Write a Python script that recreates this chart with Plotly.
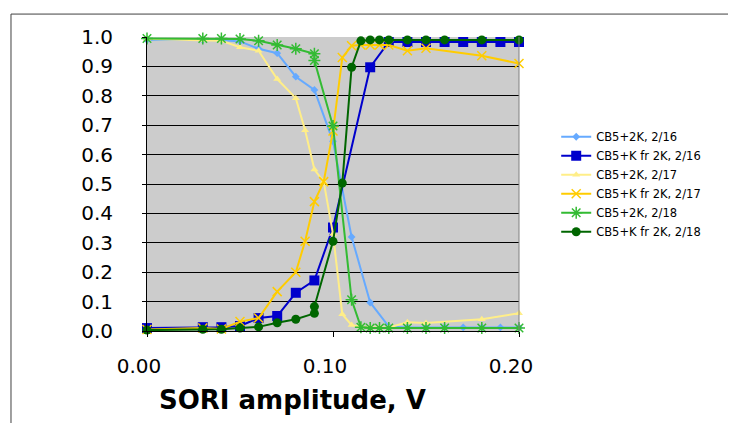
import plotly.graph_objects as go

# ---- data ----
x_216a = [0, 0.03, 0.04, 0.05, 0.06, 0.07, 0.08, 0.09, 0.10, 0.11, 0.12, 0.13,
          0.14, 0.15, 0.16, 0.17, 0.18, 0.19, 0.20]
y_216a = [0.99, 0.99, 0.99, 0.985, 0.96, 0.945, 0.865, 0.82, 0.645, 0.32, 0.097, 0.015,
          0.012, 0.012, 0.012, 0.012, 0.012, 0.012, 0.012]

x_216b = [0, 0.03, 0.04, 0.05, 0.06, 0.07, 0.08, 0.09, 0.10, 0.12, 0.13,
          0.14, 0.15, 0.16, 0.17, 0.18, 0.19, 0.20]
y_216b = [0.01, 0.013, 0.013, 0.017, 0.044, 0.051, 0.13, 0.172, 0.352, 0.897, 0.983,
          0.983, 0.983, 0.983, 0.983, 0.983, 0.983, 0.983]

x_217 = [0, 0.03, 0.04, 0.05, 0.06, 0.07, 0.08, 0.085, 0.09, 0.095, 0.10, 0.105,
         0.11, 0.115, 0.12, 0.125, 0.13, 0.14, 0.15, 0.18, 0.20]
y_217a = [0.993, 0.99, 0.987, 0.965, 0.953, 0.857, 0.792, 0.683, 0.549, 0.508, 0.33, 0.057,
          0.02, 0.015, 0.012, 0.012, 0.012, 0.03, 0.027, 0.04, 0.06]
y_217b = [0.005, 0.01, 0.007, 0.032, 0.044, 0.134, 0.2, 0.305, 0.44, 0.508, 0.68, 0.93,
          0.97, 0.973, 0.973, 0.973, 0.973, 0.953, 0.962, 0.936, 0.91]

x_218a = [0, 0.03, 0.04, 0.05, 0.06, 0.07, 0.08, 0.09, 0.09, 0.10, 0.11, 0.115,
          0.12, 0.125, 0.13, 0.14, 0.15, 0.16, 0.18, 0.20]
y_218a = [0.995, 0.995, 0.995, 0.993, 0.987, 0.973, 0.96, 0.943, 0.92, 0.697, 0.106, 0.013,
          0.01, 0.01, 0.01, 0.01, 0.01, 0.01, 0.01, 0.01]

x_218b = [0, 0.03, 0.04, 0.05, 0.06, 0.07, 0.08, 0.09, 0.09, 0.10, 0.105, 0.11, 0.115,
          0.12, 0.125, 0.13, 0.14, 0.15, 0.16, 0.18, 0.20]
y_218b = [0.003, 0.006, 0.006, 0.01, 0.014, 0.028, 0.04, 0.06, 0.083, 0.305, 0.503, 0.897, 0.987,
          0.99, 0.99, 0.99, 0.99, 0.99, 0.99, 0.99, 0.99]

names = ["CB5+2K, 2/16", "CB5+K fr 2K, 2/16", "CB5+2K, 2/17",
         "CB5+K fr 2K, 2/17", "CB5+2K, 2/18", "CB5+K fr 2K, 2/18"]
y_ticks = [0.0, 0.1, 0.2, 0.3, 0.4, 0.5, 0.6, 0.7, 0.8, 0.9, 1.0]
x_ticks = [0.0, 0.1, 0.2]

series = [
    (x_216a, y_216a, "#66AAFF", "diamond", 6),
    (x_216b, y_216b, "#0000CC", "square", 10),
    (x_217, y_217a, "#FFEE88", "triangle-up", 7),
    (x_217, y_217b, "#FFCC00", "x-thin", 9),
    (x_218a, y_218a, "#33BB33", "asterisk", 10),
    (x_218b, y_218b, "#006600", "circle", 9),
]

fig = go.Figure()
for (xs, ys, col, sym, sz), nm in zip(series, names):
    mk = dict(symbol=sym, size=sz, color=col)
    if sym in ("x-thin", "asterisk"):
        mk["line"] = dict(color=col, width=1.5)
    fig.add_trace(go.Scatter(
        x=xs, y=ys, name=nm, mode="lines+markers",
        line=dict(color=col, width=2), marker=mk, cliponaxis=False))

FONT = "DejaVu Sans, Verdana, sans-serif"
fig.update_layout(
    width=736, height=423,
    margin=dict(l=139, r=225, t=29, b=100),
    paper_bgcolor="white", plot_bgcolor="#CCCCCC",
    font=dict(family=FONT, color="black"),
    showlegend=True,
    legend=dict(x=1.1, y=0.71, xanchor="left", yanchor="top",
                font=dict(size=11.5, family=FONT, color="black"),
                bgcolor="rgba(0,0,0,0)", tracegroupgap=0),
    xaxis=dict(range=[0, 0.2], tickvals=x_ticks, tickformat=".2f",
               showgrid=False, zeroline=False,
               showline=True, linecolor="black", linewidth=1,
               ticks="outside", ticklen=5, tickcolor="black",
               ticklabelstandoff=12, ticklabelshift=-8,
               tickfont=dict(size=20, family=FONT, color="black")),
    yaxis=dict(range=[0, 1], tickvals=y_ticks, tickformat=".1f",
               showgrid=True, gridcolor="black", gridwidth=1, zeroline=False,
               showline=True, linecolor="black", linewidth=1,
               ticks="outside", ticklen=4, tickcolor="black",
               ticklabelstandoff=25,
               tickfont=dict(size=20, family=FONT, color="black")),
    annotations=[dict(text="<b>SORI amplitude, V</b>", xref="paper", yref="paper",
                      x=0.39, y=-0.235, xanchor="center", yanchor="middle",
                      showarrow=False, font=dict(size=26, family=FONT, color="black"))],
    shapes=[
        dict(type="line", xref="paper", yref="paper", x0=1, x1=1, y0=0, y1=1,
             line=dict(color="#808080", width=1)),
        dict(type="line", xref="paper", yref="paper", x0=-0.3656, x1=2.0, y0=1.078, y1=1.078,
             line=dict(color="#404040", width=1)),
        dict(type="line", xref="paper", yref="paper", x0=-0.3656, x1=-0.3656, y0=1.078, y1=-1.0,
             line=dict(color="#404040", width=1)),
    ],
)

fig.write_html("out.html")
